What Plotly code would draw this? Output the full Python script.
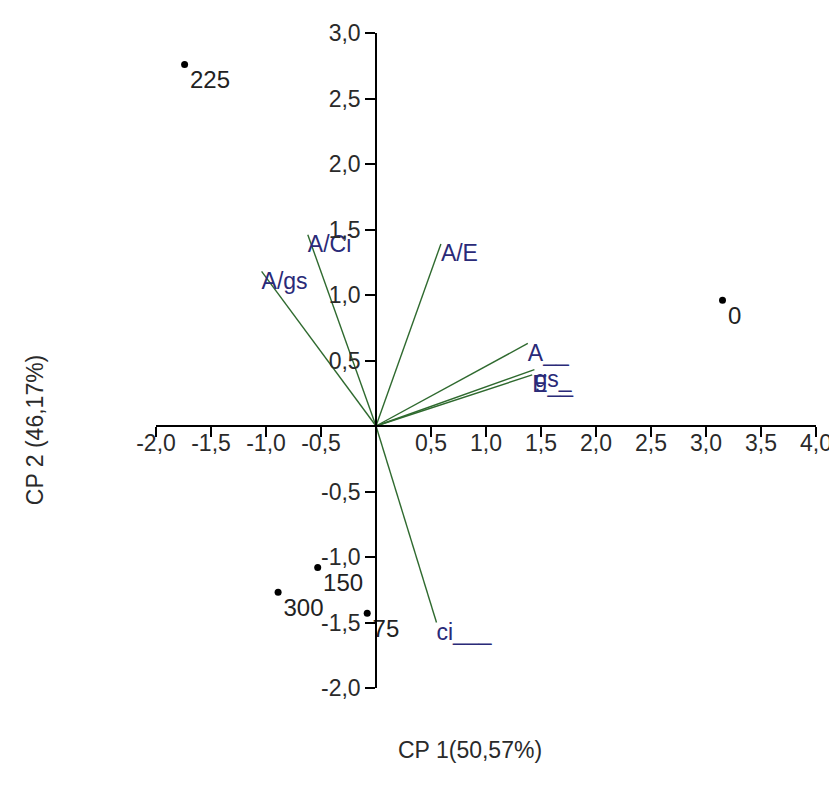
import plotly.graph_objects as go

# Scores (treatments)
point_labels = ["225", "0", "150", "300", "75"]
point_x = [-1.74, 3.15, -0.53, -0.89, -0.08]
point_y = [2.76, 0.96, -1.08, -1.27, -1.43]

# Loadings (variables)
var_labels = ["A/Ci", "A/gs", "A/E", "A__", "gs_", "E__", "ci___"]
var_x = [-0.62, -1.04, 0.59, 1.38, 1.44, 1.42, 0.55]
var_y = [1.46, 1.18, 1.39, 0.63, 0.43, 0.39, -1.50]

x_ticks = [-2.0, -1.5, -1.0, -0.5, 0.5, 1.0, 1.5, 2.0, 2.5, 3.0, 3.5, 4.0]
y_ticks = [-2.0, -1.5, -1.0, -0.5, 0.5, 1.0, 1.5, 2.0, 2.5, 3.0]
x_title = "CP 1(50,57%)"
y_title = "CP 2 (46,17%)"

def fmt(v):
    return f"{v:.1f}".replace(".", ",")

FONT = "Liberation Sans, Arial, sans-serif"

fig = go.Figure()

line_color = "#2f6a2f"
for lx, ly in zip(var_x, var_y):
    fig.add_trace(go.Scatter(x=[0, lx], y=[0, ly], mode="lines",
                             line=dict(color=line_color, width=1.4),
                             hoverinfo="skip", showlegend=False))

fig.add_trace(go.Scatter(x=var_x, y=var_y, mode="text", text=var_labels,
                         textposition="bottom right",
                         textfont=dict(family=FONT, size=23, color="#2a2a78"),
                         showlegend=False, cliponaxis=False))

fig.add_trace(go.Scatter(x=point_x, y=point_y, mode="markers+text", text=point_labels,
                         textposition="bottom right",
                         marker=dict(color="black", size=7, symbol="circle"),
                         textfont=dict(family=FONT, size=24, color="#222222"),
                         showlegend=False, cliponaxis=False))

axis_font = dict(family=FONT, size=23, color="#2a2a2a")

fig.update_layout(
    width=829, height=781,
    margin=dict(l=148, r=21, t=25, b=101),
    paper_bgcolor="white", plot_bgcolor="white",
    xaxis=dict(range=[-2, 4], anchor="free", position=0.4, automargin=False,
               showline=True, linecolor="black", linewidth=1.5,
               ticks="outside", ticklen=10, tickwidth=1.5, tickcolor="black",
               ticklabelstandoff=-13,
               tickvals=x_ticks, ticktext=[fmt(v) for v in x_ticks],
               tickfont=axis_font, showgrid=False, zeroline=False),
    yaxis=dict(range=[-2, 3], anchor="free", position=1/3, automargin=False,
               showline=True, linecolor="black", linewidth=1.5,
               ticks="outside", ticklen=10, tickwidth=1.5, tickcolor="black",
               tickvals=y_ticks, ticktext=[fmt(v) for v in y_ticks],
               tickfont=axis_font, showgrid=False, zeroline=False),
    annotations=[
        dict(text=x_title, xref="paper", yref="paper", x=0.476, y=-0.072,
             xanchor="center", yanchor="top", showarrow=False,
             font=dict(family=FONT, size=23, color="#2a2a2a")),
        dict(text=y_title, xref="paper", yref="paper", x=-0.183, y=0.394,
             xanchor="center", yanchor="middle", showarrow=False, textangle=-90,
             font=dict(family=FONT, size=23, color="#2a2a2a")),
    ],
)

fig.write_html("out.html")
